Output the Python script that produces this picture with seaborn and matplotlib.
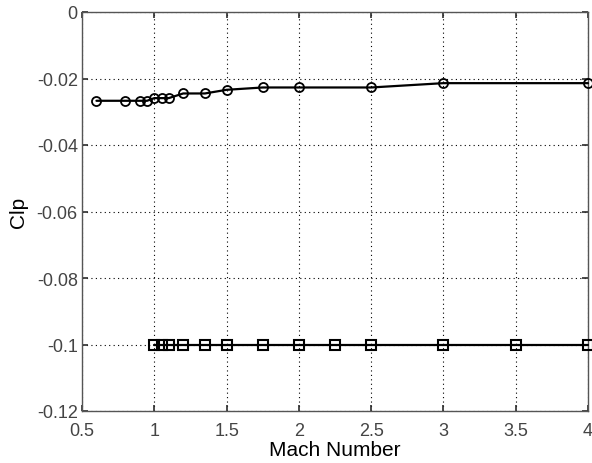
import matplotlib
matplotlib.use("Agg")
import matplotlib.pyplot as plt
import seaborn as sns
import pandas as pd

mach_circ = [0.6, 0.8, 0.9, 0.95, 1.0, 1.05, 1.1, 1.2, 1.35, 1.5, 1.75, 2.0, 2.5, 3.0, 4.0]
clp_circ = [-0.0267, -0.0267, -0.0267, -0.0267, -0.0259, -0.0259, -0.0259, -0.0245, -0.0245,
            -0.0234, -0.0227, -0.0227, -0.0227, -0.0214, -0.0214]
mach_sq = [1.0, 1.05, 1.1, 1.2, 1.35, 1.5, 1.75, 2.0, 2.25, 2.5, 3.0, 3.5, 4.0]
clp_sq = [-0.1] * len(mach_sq)

xticks = [0.5, 1, 1.5, 2, 2.5, 3, 3.5, 4]
xtick_labels = ["0.5", "1", "1.5", "2", "2.5", "3", "3.5", "4"]
yticks = [-0.12, -0.1, -0.08, -0.06, -0.04, -0.02, 0]
ytick_labels = ["-0.12", "-0.1", "-0.08", "-0.06", "-0.04", "-0.02", "0"]

sns.set_theme(style="white")
plt.rcParams['font.family'] = ['Liberation Sans', 'DejaVu Sans']

fig = plt.figure(figsize=(5.92, 4.64), dpi=100)
ax = fig.add_axes([82 / 592, 1 - 412 / 464, (588 - 82) / 592, (412 - 13) / 464])

df1 = pd.DataFrame({"Mach": mach_circ, "Clp": clp_circ})
df2 = pd.DataFrame({"Mach": mach_sq, "Clp": clp_sq})

sns.lineplot(data=df1, x="Mach", y="Clp", ax=ax, color="black", lw=1.6, marker="o",
             markersize=6.5, markerfacecolor="none", markeredgecolor="black",
             markeredgewidth=1.3, sort=False, zorder=3, clip_on=False)
sns.lineplot(data=df2, x="Mach", y="Clp", ax=ax, color="black", lw=1.6, marker="s",
             markersize=7, markerfacecolor="none", markeredgecolor="black",
             markeredgewidth=1.5, sort=False, zorder=3, clip_on=False)

ax.set_xlim(0.5, 4)
ax.set_ylim(-0.12, 0)
ax.set_xticks(xticks)
ax.set_xticklabels(xtick_labels)
ax.set_yticks(yticks)
ax.set_yticklabels(ytick_labels)

ax.grid(True, color="black", linestyle=(0, (1, 3)), linewidth=0.8)
ax.tick_params(direction="in", length=4, color="#333333", labelsize=13,
               labelcolor="#444444", top=True, right=True, bottom=True, left=True,
               labeltop=False, labelright=False)
ax.tick_params(axis="x", pad=8)
ax.tick_params(axis="y", pad=3)
for s in ax.spines.values():
    s.set_color("#555555")
    s.set_linewidth(1.0)

ax.set_xlabel("Mach Number", fontsize=15, color="black", labelpad=1)
ax.set_ylabel("Clp", fontsize=15, color="black", labelpad=6)

fig.savefig("out.png", dpi=100)
